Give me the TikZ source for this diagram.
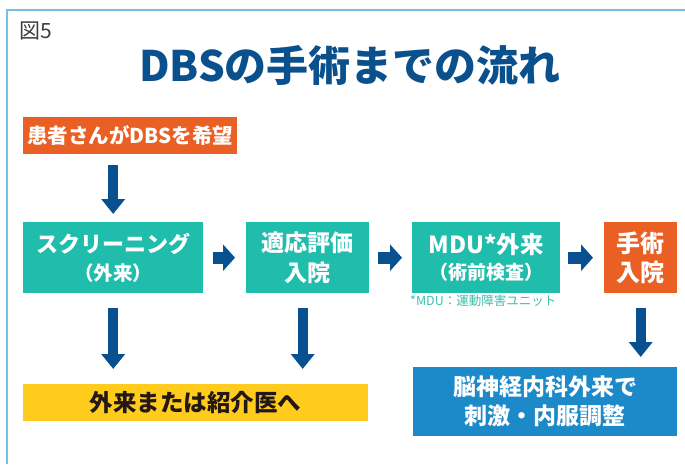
\documentclass[tikz,border=0pt]{standalone}
\usepackage{fontspec}
\setmainfont{Noto Sans CJK JP}
\usetikzlibrary{arrows.meta}
\definecolor{tealC}{RGB}{33,189,172}
\definecolor{orangeC}{RGB}{234,95,36}
\definecolor{navyC}{RGB}{9,80,145}
\definecolor{titleC}{RGB}{10,80,140}
\definecolor{yellowC}{RGB}{255,204,30}
\definecolor{blueC}{RGB}{28,137,201}
\definecolor{frameC}{RGB}{120,190,230}
\definecolor{noteC}{RGB}{60,190,175}
\definecolor{darkC}{RGB}{35,24,21}
\definecolor{figC}{RGB}{60,60,60}
\tikzset{
  box/.style={draw=none, inner sep=0pt, anchor=north west, text=white, align=center, font=\bfseries},
  arrD/.style={draw=navyC, line width=10pt, -{Triangle[width=23pt,length=15pt]}},
  arrR/.style={draw=navyC, line width=12pt, -{Triangle[width=26pt,length=12pt]}},
}
\begin{document}
\begin{tikzpicture}[x=1pt,y=-1pt]
\useasboundingbox (0,0) rectangle (685,464);
\draw[frameC, line width=1.5pt] (7,464) -- (7,10) -- (685,10);
\node[anchor=west, inner sep=0pt, text=figC, font=\fontsize{21}{24}\selectfont] (fig) at (19,31) {図5};
\node[text=titleC, inner sep=0pt, font=\bfseries\fontsize{42}{46}\selectfont] (title) at (350,65) {DBSの手術までの流れ};

\node[box, fill=orangeC, minimum width=214pt, minimum height=37pt, font=\bfseries\fontsize{20.5}{24}\selectfont] (want) at (23,117) {患者さんがDBSを希望};

\node[box, fill=tealC, minimum width=180pt, minimum height=71pt, font=\bfseries\fontsize{22}{28}\selectfont] (scr) at (23,222) {スクリーニング\\{\fontsize{19.5}{28}\selectfont （外来）}};
\node[box, fill=tealC, minimum width=123pt, minimum height=71pt, font=\bfseries\fontsize{23}{30}\selectfont] (eval) at (246,222) {適応評価\\入院};
\node[box, fill=tealC, minimum width=148pt, minimum height=71pt, font=\bfseries\fontsize{23.5}{26}\selectfont] (mdu) at (412,222) {MDU*外来\\{\fontsize{19}{26}\selectfont （術前検査）}};
\node[box, fill=orangeC, minimum width=73pt, minimum height=71pt, font=\bfseries\fontsize{24}{29}\selectfont] (op) at (604,222) {手術\\入院};
\node[anchor=north west, inner sep=0pt, text=noteC, font=\fontsize{12.5}{14}\selectfont] (note) at (410,295) {*MDU：運動障害ユニット};

\node[box, fill=yellowC, text=darkC, minimum width=345pt, minimum height=37pt, font=\bfseries\fontsize{23.5}{26}\selectfont] (gp) at (23,384) {外来または紹介医へ};
\node[box, fill=blueC, minimum width=264pt, minimum height=69pt, font=\bfseries\fontsize{23}{29}\selectfont] (neuro) at (413,367) {脳神経内科外来で\\刺激・内服調整};

\draw[arrD, shorten <=11pt, shorten >=8pt] (want.south -| scr.north) -- (scr.north);
\draw[arrR, shorten <=10pt, shorten >=11pt] (scr.east) -- (eval.west);
\draw[arrR, shorten <=9pt, shorten >=10pt] (eval.east) -- (mdu.west);
\draw[arrR, shorten <=8pt, shorten >=11pt] (mdu.east) -- (op.west);
\draw[arrD, shorten <=15pt, shorten >=15pt] (scr.south) -- (scr.south |- gp.north);
\draw[arrD, shorten <=15pt, shorten >=15pt] ([xshift=-5pt]eval.south) -- ([xshift=-5pt]eval.south |- gp.north);
\draw[arrD, shorten <=15pt, shorten >=10pt] (op.south) -- (op.south |- neuro.north);
\end{tikzpicture}
\end{document}
